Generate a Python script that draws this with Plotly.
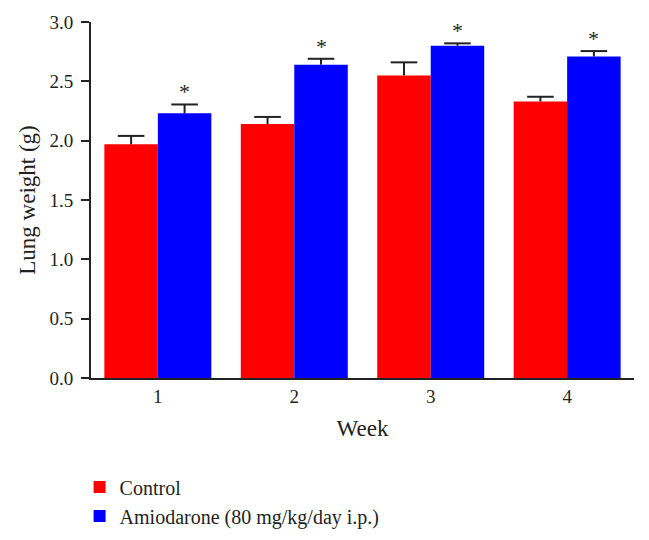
import plotly.graph_objects as go

FONT_FAMILY = "Liberation Serif, Times New Roman, serif"
TEXT_COLOR = "#231f20"
ERR_COLOR = "#222222"
BAR_W = 0.392

weeks = [1, 2, 3, 4]
control = [1.97, 2.14, 2.55, 2.33]
control_err = [0.07, 0.06, 0.11, 0.04]
amio = [2.23, 2.64, 2.80, 2.71]
amio_err = [0.075, 0.05, 0.02, 0.045]
amio_sig = ["*", "*", "*", "*"]


def _stem(arr):
    # upper error only, no caps (caps are drawn as markers below)
    return dict(type="data", symmetric=False, array=arr,
                arrayminus=[0] * len(arr), color=ERR_COLOR,
                thickness=2, width=0)


def _caps(xs, vals, errs):
    return go.Scatter(
        x=xs, y=[v + e for v, e in zip(vals, errs)], mode="markers",
        marker=dict(symbol="line-ew-open", size=19, color=ERR_COLOR,
                    line=dict(color=ERR_COLOR, width=2)),
        showlegend=False, hoverinfo="skip",
    )


ctrl_x = [w - BAR_W / 2 for w in weeks]
amio_x = [w + BAR_W / 2 for w in weeks]

fig = go.Figure()
fig.add_trace(go.Bar(
    x=weeks, y=control, name="Control", width=BAR_W, offset=-BAR_W,
    marker=dict(color="#ff0000", line=dict(width=0)),
    error_y=_stem(control_err),
))
fig.add_trace(go.Bar(
    x=weeks, y=amio, name="Amiodarone (80 mg/kg/day i.p.)",
    width=BAR_W, offset=0,
    marker=dict(color="#0000ff", line=dict(width=0)),
    error_y=_stem(amio_err),
))
fig.add_trace(_caps(ctrl_x, control, control_err))
fig.add_trace(_caps(amio_x, amio, amio_err))

# significance marks above the amiodarone bars
for x, v, e, s in zip(amio_x, amio, amio_err, amio_sig):
    fig.add_annotation(
        x=x, y=v + e, text=s, showarrow=False,
        yshift=-2, yanchor="bottom",
        font=dict(family=FONT_FAMILY, size=22, color=TEXT_COLOR),
    )

# page body has an 8px margin, so the figure is nudged up/left
fig.update_layout(
    width=649, height=540,
    barmode="overlay",
    font=dict(family=FONT_FAMILY, size=19, color=TEXT_COLOR),
    paper_bgcolor="white", plot_bgcolor="white",
    margin=dict(l=83, r=23, t=14, b=170),
    xaxis=dict(
        title=dict(text="Week", standoff=14),
        range=[0.51, 4.49], tickvals=weeks, showgrid=False, zeroline=False,
        showline=True, linecolor=ERR_COLOR, linewidth=2,
        ticks="", tickfont=dict(size=19), automargin=False,
        ticklabelstandoff=0,
    ),
    yaxis=dict(
        title=dict(text="Lung weight (g)", standoff=7),
        range=[0, 3.0], tickvals=[0, 0.5, 1.0, 1.5, 2.0, 2.5, 3.0],
        tickformat=".1f", showgrid=False, zeroline=False,
        showline=True, linecolor=ERR_COLOR, linewidth=2,
        ticks="outside", ticklen=8, tickwidth=2, tickcolor=ERR_COLOR,
        tickfont=dict(size=19), ticklabelstandoff=4, automargin=False,
    ),
    legend=dict(
        orientation="v", x=-0.021, y=-0.4425, xanchor="left", yanchor="bottom",
        font=dict(size=20), traceorder="normal", itemwidth=30,
        tracegroupgap=0,
    ),
    showlegend=True,
)

fig.write_html("out.html")
